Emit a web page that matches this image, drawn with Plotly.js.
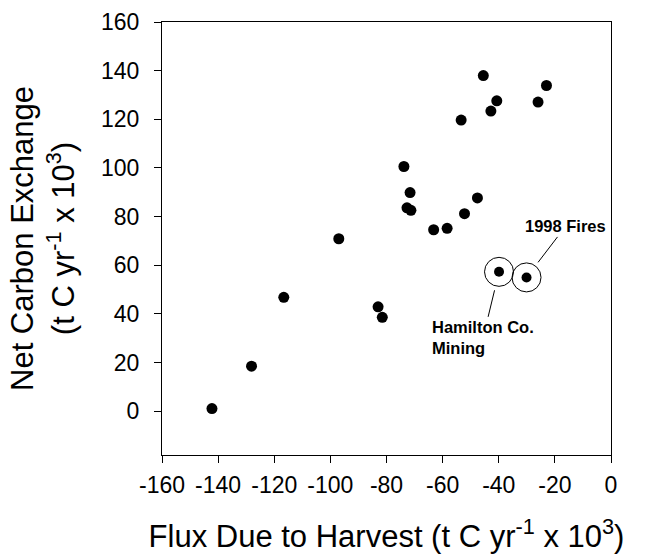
<!DOCTYPE html>
<html>
<head>
<meta charset="utf-8">
<script src="https://cdn.plot.ly/plotly-3.0.1.min.js"></script>
<style>html,body{margin:0;padding:0;background:#fff;}#chart{width:652px;height:557px;}</style>
</head>
<body>
<div id="chart"></div>
<script>
// Flux due to harvest (t C yr-1 x 10^3) and net carbon exchange for each county
const fluxHarvest = [-45.5, -23.0, -40.7, -26.0, -42.8, -53.4, -73.8, -71.6, -72.7, -71.3,
                     -47.6, -52.2, -63.2, -58.4, -97.0, -116.6, -83.0, -81.5, -128.1, -142.2];
const netCarbonExchange = [138.0, 133.9, 127.6, 127.1, 123.4, 119.7, 100.6, 89.9, 83.6, 82.6,
                           87.7, 81.2, 74.6, 75.2, 70.9, 46.8, 42.9, 38.6, 18.5, 1.1];
// Highlighted cases
const specialLabels = ["Hamilton Co.<br>Mining", "1998 Fires"];
const specialFlux = [-39.9, -30.1];
const specialNCE = [57.3, 55.0];
// Tick labels
const xTicks = [-160, -140, -120, -100, -80, -60, -40, -20, 0];
const yTicks = [0, 20, 40, 60, 80, 100, 120, 140, 160];

const FONT = "Liberation Sans, Arial, Helvetica, sans-serif";

const traces = [
  {
    x: fluxHarvest, y: netCarbonExchange, type: "scatter", mode: "markers",
    marker: {color: "#000", size: 11}, hoverinfo: "x+y"
  },
  {
    x: specialFlux, y: specialNCE, type: "scatter", mode: "markers",
    marker: {color: "#000", size: 10}, hoverinfo: "x+y"
  },
  {
    x: specialFlux, y: specialNCE, type: "scatter", mode: "markers",
    marker: {symbol: "circle-open", color: "#000", size: 29, line: {width: 1, color: "#000"}},
    hoverinfo: "skip"
  }
];

const annOffsets = [{ax: -16, ay: 66, align: "left"}, {ax: 39, ay: -51, align: "center"}];
const annotations = specialLabels.map((t, i) => ({
  x: specialFlux[i], y: specialNCE[i], xref: "x", yref: "y",
  text: t, showarrow: true, arrowhead: 0, arrowwidth: 1, arrowcolor: "#000",
  ax: annOffsets[i].ax, ay: annOffsets[i].ay, standoff: 19, align: annOffsets[i].align,
  font: {family: FONT, size: 16.5, color: "#000", weight: "bold"}
}));

const axisCommon = {
  showline: true, linecolor: "#000", linewidth: 1, mirror: true,
  ticks: "outside", ticklen: 7, tickwidth: 1, tickcolor: "#000",
  showgrid: false, zeroline: false,
  tickfont: {family: FONT, size: 23, color: "#000"}
};

const layout = {
  width: 652, height: 557,
  margin: {l: 162, r: 41, t: 22, b: 102},
  paper_bgcolor: "#fff", plot_bgcolor: "#fff",
  showlegend: false,
  font: {family: FONT, color: "#000"},
  xaxis: Object.assign({}, axisCommon, {
    range: [-160, 0], tickmode: "array", tickvals: xTicks, ticktext: xTicks.map(String),
    ticklabelstandoff: 2,
    title: {text: "Flux Due to Harvest (t C yr<sup>-1</sup> x 10<sup>3</sup>)",
            font: {family: FONT, size: 31, color: "#000"}, standoff: 28}
  }),
  yaxis: Object.assign({}, axisCommon, {
    range: [-18, 160], tickmode: "array", tickvals: yTicks, ticktext: yTicks.map(String),
    ticklabelstandoff: 10,
    title: {text: "Net Carbon Exchange<br>(t C yr<sup>-1</sup> x 10<sup>3</sup>)",
            font: {family: FONT, size: 31, color: "#000"}, standoff: 17}
  }),
  annotations: annotations
};

Plotly.newPlot("chart", traces, layout, {displayModeBar: false, staticPlot: true});
</script>
</body>
</html>
